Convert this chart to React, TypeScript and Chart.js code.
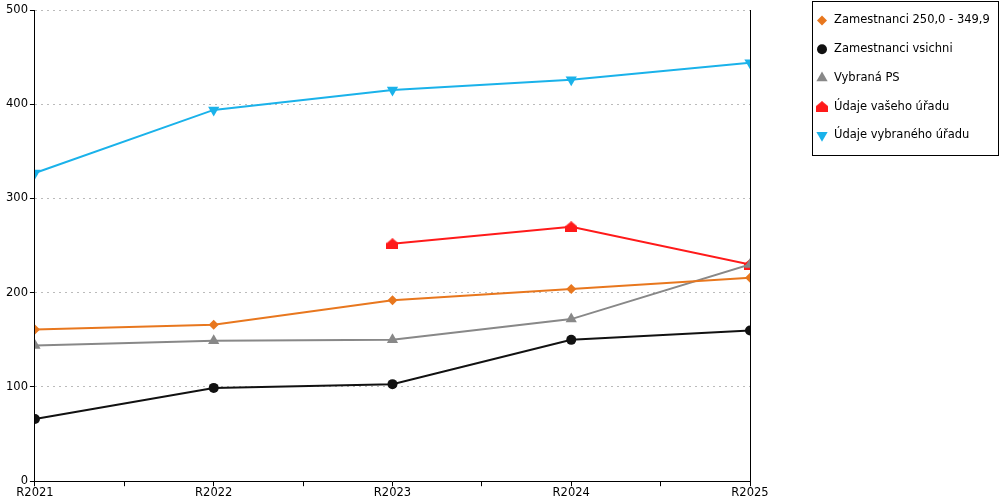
import React, { useEffect, useRef } from 'react';
import { Chart, registerables } from 'chart.js';
import { drawPoint } from 'chart.js/helpers';

Chart.register(...registerables);

const categories = ['R2021', 'R2022', 'R2023', 'R2024', 'R2025'];
const yTicks = [0, 100, 200, 300, 400, 500];

const zam250 = [161, 166, 192, 204, 216];
const zamVsichni = [66, 99, 103, 150, 160];
const vybranaPS = [144, 149, 150, 172, 230];
const vasUrad = [null, null, 252, 270, 230];
const vybranyUrad = [327, 394, 415, 426, 444];

const FONT = 'DejaVu Sans';
const FONT_SIZE = 11.5;

function makeHouse(color: string) {
    const c = document.createElement('canvas');
    c.width = 12;
    c.height = 11;
    const g = c.getContext('2d');
    if (g) {
        g.fillStyle = color;
        g.beginPath();
        g.moveTo(0, 5);
        g.lineTo(6, 0);
        g.lineTo(12, 5);
        g.lineTo(12, 11);
        g.lineTo(0, 11);
        g.closePath();
        g.fill();
    }
    return c;
}

const toPoints = (arr: (number | null)[]) => arr.map((v, i) => ({ x: i, y: v }));

const App: React.FC = () => {
    const chartRef = useRef<HTMLCanvasElement | null>(null);

    useEffect(() => {
        document.body.style.margin = '0';
        if (!chartRef.current) return;
        const ctx = chartRef.current.getContext('2d');
        if (!ctx) return;

        const house = makeHouse('#ff1a1a');

        const series = [
            { label: 'Zamestnanci 250,0 - 349,9', data: zam250, color: '#e8771e', style: 'rectRot', radius: 5, rotation: 0 },
            { label: 'Zamestnanci vsichni', data: zamVsichni, color: '#111111', style: 'circle', radius: 5, rotation: 0 },
            { label: 'Vybraná PS', data: vybranaPS, color: '#888888', style: 'triangle', radius: 6.5, rotation: 0 },
            { label: 'Údaje vašeho úřadu', data: vasUrad, color: '#ff1a1a', style: house as any, radius: 6, rotation: 0 },
            { label: 'Údaje vybraného úřadu', data: vybranyUrad, color: '#1ab2ea', style: 'triangle', radius: 6.5, rotation: 180 },
        ];

        // legend drawn by hand in a bordered box, plus the right frame line
        const legendBox = {
            id: 'legendBox',
            afterDraw(chart: Chart) {
                const c = chart.ctx;
                const { right, top, bottom } = chart.chartArea;
                c.save();
                c.strokeStyle = '#000';
                c.lineWidth = 1;
                c.beginPath();
                c.moveTo(right + 0.5, top);
                c.lineTo(right + 0.5, bottom);
                c.stroke();

                c.strokeRect(812.5, 1.5, 186, 154);
                c.font = `${FONT_SIZE}px "${FONT}"`;
                c.textBaseline = 'middle';
                series.forEach((s, i) => {
                    const y = 20.5 + i * 28.7;
                    c.fillStyle = s.color;
                    c.strokeStyle = s.color;
                    drawPoint(c, { pointStyle: s.style, radius: s.radius, rotation: s.rotation, borderWidth: 0 }, 822, y);
                    c.fillStyle = '#000';
                    c.fillText(s.label, 834, y);
                });
                c.restore();
            },
        };

        const myChart = new Chart(ctx, {
            type: 'line',
            data: {
                datasets: series.map((s) => ({
                    label: s.label,
                    data: toPoints(s.data),
                    borderColor: s.color,
                    backgroundColor: s.color,
                    borderWidth: 2,
                    tension: 0,
                    pointStyle: s.style,
                    pointRadius: s.radius,
                    pointRotation: s.rotation,
                    pointBorderWidth: 0,
                    pointHoverRadius: s.radius,
                    pointHoverBorderWidth: 0,
                })),
            },
            options: {
                responsive: false,
                animation: false,
                events: [],
                layout: { padding: { top: 10, right: 250, left: 4, bottom: 0 } },
                scales: {
                    x: {
                        type: 'linear',
                        min: 0,
                        max: categories.length - 1,
                        afterBuildTicks: (axis) => {
                            const t = [];
                            for (let v = 0; v <= categories.length - 1; v += 0.5) t.push({ value: v });
                            axis.ticks = t;
                        },
                        ticks: {
                            autoSkip: false,
                            maxRotation: 0,
                            padding: 0,
                            color: '#000',
                            font: { family: FONT, size: FONT_SIZE },
                            callback: (v) => (Number.isInteger(v) ? categories[v as number] : ''),
                        },
                        grid: { drawOnChartArea: false, tickLength: 5, color: '#000' },
                        border: { color: '#000' },
                    },
                    y: {
                        min: 0,
                        max: 500,
                        afterBuildTicks: (axis) => {
                            axis.ticks = yTicks.map((v) => ({ value: v }));
                        },
                        ticks: {
                            color: '#000',
                            padding: 2,
                            font: { family: FONT, size: FONT_SIZE },
                        },
                        grid: {
                            color: '#bbbbbb',
                            tickColor: '#000',
                            tickBorderDash: [],
                            tickLength: 5,
                        },
                        border: { color: '#000', dash: [2, 4] },
                    },
                },
                plugins: {
                    legend: { display: false },
                    tooltip: { enabled: false },
                },
            },
            plugins: [legendBox],
        });

        return () => {
            myChart.destroy();
        };
    }, []);

    return (
        <div style={{ position: 'absolute', left: 0, top: 0, width: 1000, height: 500 }}>
            <canvas ref={chartRef} width="1000" height="500" style={{ display: 'block' }} />
        </div>
    );
};

export default App;
